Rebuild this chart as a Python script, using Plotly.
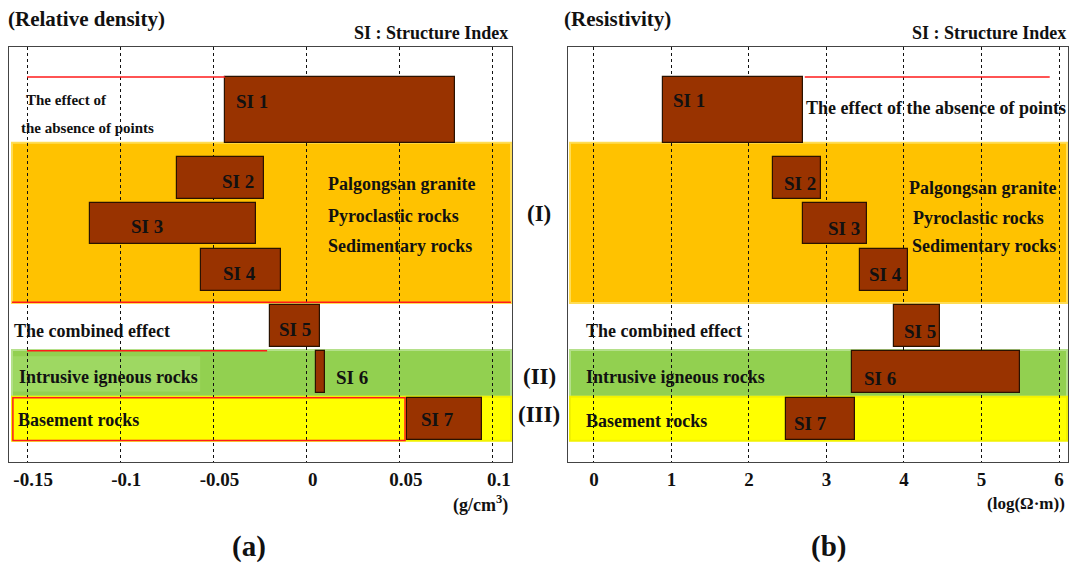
import plotly.graph_objects as go

W, H = 1073, 564

# ---------------- data ----------------
si_labels = ["SI 1", "SI 2", "SI 3", "SI 4", "SI 5", "SI 6", "SI 7"]
si_row = [1.52, 3.16, 4.25, 5.37, 6.72, 7.83, 8.96]          # row centre (top = 0)
si_thick = [1.59, 1.01, 1.0, 1.01, 1.01, 1.01, 1.01]          # row thickness

dens_min = [-0.0438, -0.0695, -0.1162, -0.0567, -0.0196, 0.0050, 0.0539]
dens_max = [0.0796, -0.0229, -0.0271, -0.0137, 0.0072, 0.0099, 0.0941]

res_min = [0.89, 2.31, 2.70, 3.43, 3.87, 3.33, 2.48]
res_max = [2.70, 2.93, 3.52, 4.05, 4.46, 5.50, 3.37]

dens_ticks = [-0.15, -0.1, -0.05, 0, 0.05, 0.1]
dens_ticktext = ["-0.15", "-0.1", "-0.05", "0", "0.05", "0.1"]
res_ticks = [0, 1, 2, 3, 4, 5, 6]
res_ticktext = ["0", "1", "2", "3", "4", "5", "6"]

band_names = ["(I)", "(II)", "(III)"]
band_top = [2.31, 7.30, 8.43]
band_bottom = [6.17, 8.43, 9.49]
band_fill = ["#FFC200", "#92D050", "#FFFF00"]
band_edge = ["#FFDD55", "#B4E08A", "#F2F200"]

# ---------------- figure ----------------
FONT = "Liberation Serif"
BROWN = "#993300"

fig = go.Figure()

fig.add_trace(go.Bar(
    orientation="h", y=si_row, base=dens_min,
    x=[b - a for a, b in zip(dens_min, dens_max)],
    width=si_thick, marker=dict(color=BROWN, line=dict(color="#2a1200", width=1.2)),
    xaxis="x", yaxis="y", showlegend=False, hoverinfo="skip"))
fig.add_trace(go.Bar(
    orientation="h", y=si_row, base=res_min,
    x=[b - a for a, b in zip(res_min, res_max)],
    width=si_thick, marker=dict(color=BROWN, line=dict(color="#2a1200", width=1.2)),
    xaxis="x2", yaxis="y2", showlegend=False, hoverinfo="skip"))

def px(x):
    return x / W

def py(y):
    return 1 - y / H

axis_common = dict(showline=True, mirror=True, linecolor="#444", linewidth=1,
                   zeroline=False, fixedrange=True)
xcommon = dict(axis_common, showgrid=True, gridcolor="#111", griddash="dot", gridwidth=1.2,
               tickmode="array", ticks="", ticklabelstandoff=0,
               tickfont=dict(family=FONT, size=19, color="#111", weight="bold"))
ycommon = dict(axis_common, range=[10, 0], showgrid=False, showticklabels=False, ticks="")

fig.update_layout(
    width=W, height=H, autosize=False,
    margin=dict(l=0, r=0, t=0, b=0),
    paper_bgcolor="white", plot_bgcolor="white",
    bargap=0, barmode="overlay",
    xaxis=dict(xcommon, domain=[px(9), px(512)], range=[-0.1597, 0.1102],
               tickvals=dens_ticks, ticktext=dens_ticktext, anchor="y", ticklabelshift=6),
    yaxis=dict(ycommon, domain=[py(462), py(47)], anchor="x"),
    xaxis2=dict(xcommon, domain=[px(568), px(1068)], range=[-0.335, 6.116],
                tickvals=res_ticks, ticktext=res_ticktext, anchor="y2"),
    yaxis2=dict(ycommon, domain=[py(462), py(47)], anchor="x2"),
)

shapes = []
for xr, yr, xd in [("x domain", "y", (0.006, 0.998)), ("x2 domain", "y2", (0.004, 0.998))]:
    for t, b, f, e in zip(band_top, band_bottom, band_fill, band_edge):
        shapes.append(dict(type="rect", xref=xr, yref=yr, x0=xd[0], x1=xd[1], y0=t, y1=b,
                           fillcolor=f, line=dict(color=e, width=2), layer="below"))
# lighter patch behind the intrusive-rock label (left panel)
shapes.append(dict(type="rect", xref="x domain", yref="y", x0=0.008, x1=0.38, y0=7.45, y1=8.3,
                   fillcolor="#9ED862", line=dict(width=0), layer="below"))

red = dict(color="#FF1A1A", width=1.5)
# red guide lines
shapes += [
    dict(type="line", xref="x", yref="y", x0=-0.15, x1=dens_min[0], y0=0.72, y1=0.72, line=red, layer="above"),
    dict(type="line", xref="x domain", yref="y", x0=0.006, x1=0.998, y0=6.15, y1=6.15, line=red, layer="above"),
    dict(type="line", xref="x", yref="y", x0=-0.15, x1=-0.0212, y0=7.32, y1=7.32, line=red, layer="above"),
    dict(type="rect", xref="x", yref="y", x0=-0.1576, x1=0.0528, y0=8.45, y1=9.48, line=red, layer="above"),
    dict(type="line", xref="x2", yref="y2", x0=2.72, x1=5.88, y0=0.72, y1=0.72, line=red, layer="above"),
]
fig.update_layout(shapes=shapes)

ann = []

def T(text, x, y, size=16, anchor="center"):
    ann.append(dict(text=text, x=px(x), y=py(y), xref="paper", yref="paper",
                    xanchor=anchor, yanchor="middle", showarrow=False,
                    font=dict(family=FONT, size=size, color="#111", weight="bold")))

# titles
T("(Relative density)", 6, 19, 21, "left")
T("SI : Structure Index", 510, 33, 18, "right")
T("(Resistivity)", 562, 19, 21, "left")
T("SI : Structure Index", 1068, 33, 18, "right")

# left panel texts
T("The effect of", 24, 100, 15, "left")
T("the absence of points", 19, 128, 15, "left")
left_si_pos = [(252, 101), (238, 181), (147, 226), (239, 273), (295, 329), (352, 377), (437, 419)]
for lab, (x, y) in zip(si_labels, left_si_pos):
    T(lab, x, y, 19)
T("Palgongsan granite", 326, 184, 18, "left")
T("Pyroclastic rocks", 326, 216, 18, "left")
T("Sedimentary rocks", 326, 246, 18, "left")
T("The combined effect", 12, 331, 18, "left")
T("Intrusive igneous rocks", 17, 377, 18, "left")
T("Basement rocks", 16, 420, 18, "left")

# right panel texts
right_si_pos = [(689, 100), (800, 183), (844, 228), (885, 274), (920, 331), (880, 378), (810, 423)]
for lab, (x, y) in zip(si_labels, right_si_pos):
    T(lab, x, y, 19)
T("The effect of the absence of points", 804, 108, 18, "left")
T("Palgongsan granite", 907, 188, 18, "left")
T("Pyroclastic rocks", 911, 218, 18, "left")
T("Sedimentary rocks", 910, 246, 18, "left")
T("The combined effect", 584, 331, 18, "left")
T("Intrusive igneous rocks", 584, 377, 18, "left")
T("Basement rocks", 584, 421, 18, "left")

# class labels between panels
for name, y in zip(band_names, [214, 376, 414]):
    T(name, 539, y, 23)

# units and panel letters
T("(g/cm<sup>3</sup>)", 480, 504, 18)
T("(log(\u03a9\u00b7m))", 1026, 503, 17)
T("(a)", 249, 546, 29)
T("(b)", 828, 546, 29)

fig.update_layout(annotations=ann)

fig.write_html("out.html", config={"displayModeBar": False},
               post_script="document.body.style.margin='0';")
